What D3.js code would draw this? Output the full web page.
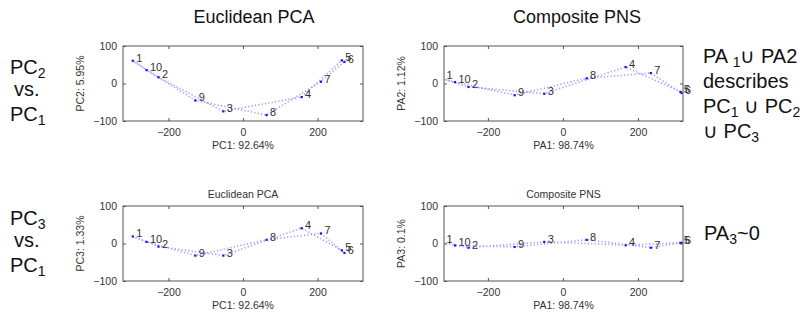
<!DOCTYPE html>
<html><head><meta charset="utf-8">
<script src="https://cdn.jsdelivr.net/npm/d3@7/dist/d3.min.js"></script>
<style>body{margin:0;background:#fff}svg{display:block}</style>
</head><body>
<script>
const labels = ["1","2","3","4","5","6","7","8","9","10"];
// PC1 (Euclidean) and PA1 (PNS) scores
const pc1 = [-296,-227,-53,157,265,272,209,63,-128,-259];
const pc2 = [61,17,-74,-36,62,58,5,-84,-45,36];
const pc3 = [19,-8,-32,41,-18,-25,27,10,-32,4.5];
const pa1 = [-330,-252,-50,167,313,316,234,63,-129,-288];
const pa2 = [15,-9,-27,44,-22,-25,28,14,-31,4];
const pa3 = [5,-11,4.5,-4.5,2,2,-11,10,-9,-5];
const xTicks = [-200,0,200];
const yTicks = [-100,0,100];

const W=805,H=314;
const svg=d3.select("body").append("svg").attr("width",W).attr("height",H);
const font="Arial, 'Liberation Sans', sans-serif";

const panels=[
 {x:pc1,y:pc2,xl:"PC1: 92.64%",yl:"PC2: 5.95%",L:123,R:363,T:46,B:121,dom:[-322,322],title:null},
 {x:pa1,y:pa2,xl:"PA1: 98.74%",yl:"PA2: 1.12%",L:444,R:683,T:46,B:121,dom:[-317,320],title:null},
 {x:pc1,y:pc3,xl:"PC1: 92.64%",yl:"PC3: 1.33%",L:123,R:363,T:206,B:281,dom:[-322,322],title:"Euclidean PCA"},
 {x:pa1,y:pa3,xl:"PA1: 98.74%",yl:"PA3: 0.1%",L:444,R:683,T:206,B:281,dom:[-317,320],title:"Composite PNS"}
];

panels.forEach((p,i)=>{
  const xs=d3.scaleLinear().domain(p.dom).range([p.L,p.R]);
  const ys=d3.scaleLinear().domain([-100,100]).range([p.B,p.T]);
  const g=svg.append("g");
  const cid="clip"+i;
  svg.append("clipPath").attr("id",cid).append("rect")
    .attr("x",p.L).attr("y",p.T).attr("width",p.R-p.L).attr("height",p.B-p.T);
  const pts=labels.map((l,k)=>({l,x:p.x[k],y:p.y[k]}));
  const loop=pts.concat([pts[0]]);
  const line=d3.line().x(d=>xs(d.x)).y(d=>ys(d.y));
  g.append("path").attr("d",line(loop)).attr("fill","none")
    .attr("stroke","#9d9dff").attr("stroke-width",1.6).attr("stroke-dasharray","1.2,2.2")
    .attr("clip-path",`url(#${cid})`);
  g.append("g").attr("clip-path",`url(#${cid})`).selectAll("rect").data(pts).join("rect")
    .attr("x",d=>xs(d.x)-1).attr("y",d=>ys(d.y)-1).attr("width",2.2).attr("height",2.2).attr("fill","#1010ff");
  g.selectAll("text.lab").data(pts).join("text").attr("class","lab")
    .attr("x",d=>Math.max(xs(d.x),p.L-1)+3.5).attr("y",d=>ys(d.y)+1)
    .attr("font-family",font).attr("font-size",11).attr("fill","#333").text(d=>d.l);
  g.append("rect").attr("x",p.L).attr("y",p.T).attr("width",p.R-p.L).attr("height",p.B-p.T)
    .attr("fill","none").attr("stroke","#555").attr("stroke-width",1);
  const ax=g.append("g").attr("transform",`translate(0,${p.B})`)
    .call(d3.axisBottom(xs).tickValues(xTicks).tickSize(-3).tickPadding(8).tickFormat(d3.format("d")));
  const axTop=g.append("g").attr("transform",`translate(0,${p.T})`)
    .call(d3.axisTop(xs).tickValues(xTicks).tickSize(-3).tickFormat(""));
  const ay=g.append("g").attr("transform",`translate(${p.L},0)`)
    .call(d3.axisLeft(ys).tickValues(yTicks).tickSize(-3).tickPadding(6).tickFormat(d3.format("d")));
  const ayR=g.append("g").attr("transform",`translate(${p.R},0)`)
    .call(d3.axisRight(ys).tickValues(yTicks).tickSize(-3).tickFormat(""));
  [ax,axTop,ay,ayR].forEach(a=>{
    a.select(".domain").remove();
    a.selectAll("line").attr("stroke","#555");
    a.selectAll("text").filter(function(){return this.textContent!=="";})
      .attr("font-family",font).attr("font-size",10.5).attr("fill","#333");
    a.selectAll("text").filter(function(){return this.textContent==="";}).remove();
  });
  g.append("text").attr("x",(p.L+p.R)/2).attr("y",p.B+28).attr("text-anchor","middle")
    .attr("font-family",font).attr("font-size",10.5).attr("fill","#333").text(p.xl);
  g.append("text").attr("transform",`translate(${p.L-39},${(p.T+p.B)/2}) rotate(-90)`)
    .attr("text-anchor","middle").attr("font-family",font).attr("font-size",10.5).attr("fill","#333").text(p.yl);
  if(p.title){
    g.append("text").attr("x",(p.L+p.R)/2).attr("y",p.T-8).attr("text-anchor","middle")
      .attr("font-family",font).attr("font-size",10.5).attr("fill","#333").text(p.title);
  }
});

svg.append("text").attr("x",254).attr("y",23).attr("text-anchor","middle")
  .attr("font-family",font).attr("font-size",18).attr("fill","#111").text("Euclidean PCA");
svg.append("text").attr("x",577).attr("y",23).attr("text-anchor","middle")
  .attr("font-family",font).attr("font-size",18).attr("fill","#111").text("Composite PNS");

// text with subscripts: parts [{t, s}] ; dy handled on the following part
function sub(parts,x,y){
  const t=svg.append("text").attr("x",x).attr("y",y).attr("font-family",font)
    .attr("font-size",20).attr("fill","#111");
  let down=false;
  parts.forEach(pt=>{
    const ts=t.append("tspan").text(pt.t);
    if(pt.s){ts.attr("font-size",14).attr("dy",down?0:4); down=true;}
    else {ts.attr("font-size",20).attr("dy",down?-4:0); down=false;}
  });
  return t;
}
sub([{t:"PC"},{t:"2",s:1}],10,74);
svg.append("text").attr("x",14).attr("y",96).attr("font-family",font).attr("font-size",20).attr("fill","#111").text("vs.");
sub([{t:"PC"},{t:"1",s:1}],10,121);
sub([{t:"PC"},{t:"3",s:1}],10,225);
svg.append("text").attr("x",14).attr("y",247).attr("font-family",font).attr("font-size",20).attr("fill","#111").text("vs.");
sub([{t:"PC"},{t:"1",s:1}],10,272);

sub([{t:"PA "},{t:"1",s:1},{t:"\u222a PA2"}],703,63);
svg.append("text").attr("x",703).attr("y",88).attr("font-family",font).attr("font-size",20).attr("fill","#111").text("describes");
sub([{t:"PC"},{t:"1",s:1},{t:" \u222a PC"},{t:"2",s:1}],703,113);
sub([{t:"\u222a PC"},{t:"3",s:1}],703,138);
sub([{t:"PA"},{t:"3",s:1},{t:"~0"}],704,240);
</script>
</body></html>
